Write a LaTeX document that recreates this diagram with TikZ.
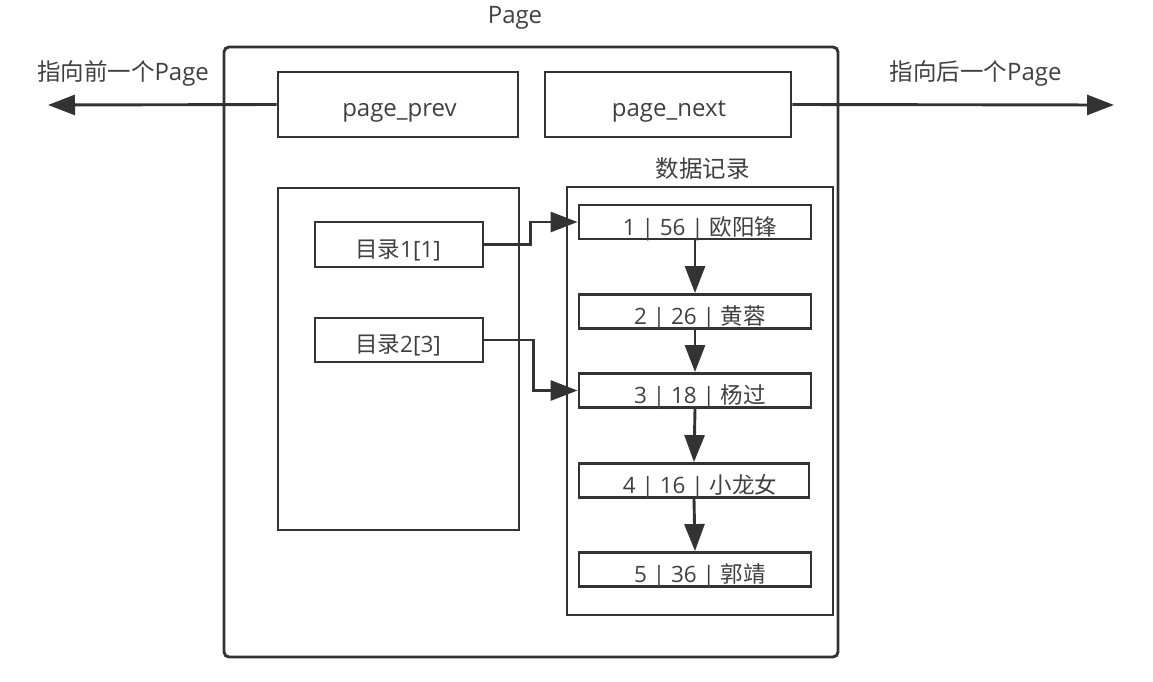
\documentclass[tikz,border=0pt]{standalone}
\usepackage{fontspec}
\setmainfont{Open Sans}
\newfontfamily\cjk{Noto Sans CJK SC}
\usetikzlibrary{arrows.meta}
\definecolor{ln}{HTML}{333333}
\definecolor{tx}{HTML}{404040}
\tikzset{
  box/.style={draw=ln, line width=2.9pt, rectangle, inner sep=0pt, anchor=center},
  big/.style={text=tx, font=\fontsize{24}{28}\selectfont, inner sep=0pt, anchor=base},
  rec/.style={text=tx, font=\fontsize{22.5}{26}\selectfont, inner sep=0pt, anchor=base},
  conn/.style={draw=ln, line width=2.9pt, -{Triangle[length=27pt,width=20pt]}},
}
\begin{document}
\begin{tikzpicture}[x=1pt,y=-1pt]
\useasboundingbox (0,0) rectangle (1153,681);
% outer page
\node[box, rounded corners=5pt, minimum width=614pt, minimum height=610pt] (page) at (531,352) {};
\node[big] (pagetitle) at (515,23) {Page};
% prev / next
\node[box, minimum width=240pt, minimum height=65pt] (pp) at (398,104.5) {};
\node[box, minimum width=246pt, minimum height=65pt] (pn) at (668,104.5) {};
\node[big] (ppt) at (399.5,116) {page\_prev};
\node[big] (pnt) at (669,116) {page\_next};
\coordinate (L) at (48,105);
\coordinate (R) at (1114,105);
\draw[conn] (pp.west) -- (L);
\draw[conn] (pn.east) -- (R);
\node[big] (ltxt) at (123,80) {{\cjk\fontsize{23.5}{28}\selectfont 指向前一个}Page};
\node[big] (rtxt) at (975.5,80) {{\cjk\fontsize{23.5}{28}\selectfont 指向后一个}Page};
% directory
\node[box, minimum width=241pt, minimum height=342pt] (dir) at (398.5,359) {};
\node[box, minimum width=168pt, minimum height=45pt] (d1) at (399,244.5) {};
\node[box, minimum width=168pt, minimum height=44pt] (d2) at (399,340) {};
\node[rec] (d1t) at (398,257) {{\cjk 目录}1[1]};
\node[rec] (d2t) at (398,352.5) {{\cjk 目录}2[3]};
% data records
\node[box, minimum width=266pt, minimum height=428pt] (data) at (700,401) {};
\node[big, anchor=center] (datatitle) at (702.5,169) {\cjk\fontsize{23.5}{28}\selectfont 数据记录};
\node[box, minimum width=232pt, minimum height=34pt] (r1) at (695,222) {};
\node[box, minimum width=232pt, minimum height=34pt] (r2) at (695,311.5) {};
\node[box, minimum width=232pt, minimum height=34pt] (r3) at (695,390.5) {};
\node[box, minimum width=230pt, minimum height=34pt] (r4) at (694,480.5) {};
\node[box, minimum width=232pt, minimum height=34pt] (r5) at (695,569.5) {};
\node[rec] (r1t) at (700,235) {1 | 56 | {\cjk 欧阳锋}};
\node[rec] (r2t) at (700,324.5) {2 | 26 | {\cjk 黄蓉}};
\node[rec] (r3t) at (700,403.5) {3 | 18 | {\cjk 杨过}};
\node[rec] (r4t) at (700,493.5) {4 | 16 | {\cjk 小龙女}};
\node[rec] (r5t) at (700,582.5) {5 | 36 | {\cjk 郭靖}};
\draw[conn] (r1.south) -- (r2.north);
\draw[conn] (r2.south) -- (r3.north);
\draw[conn] (r3.south) -- (r4.north);
\draw[conn] (r4.south) -- (r5.north);
% directory pointers
\draw[conn] (d1.east) -- ++(46,0) |- (r1.west);
\draw[conn] (d2.east) -- ++(49,0) |- (r3.west);
\end{tikzpicture}
\end{document}
